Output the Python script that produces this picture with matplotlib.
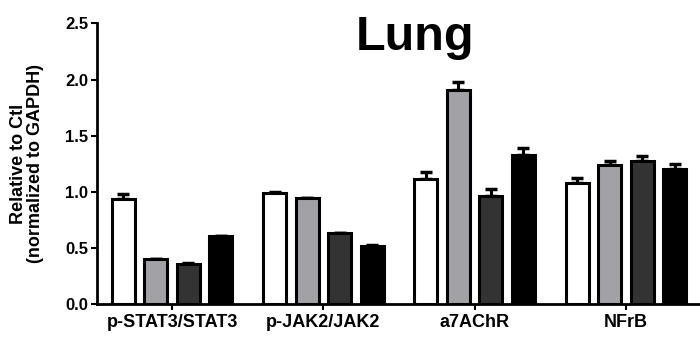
import numpy as np
import matplotlib
matplotlib.use("Agg")
import matplotlib.pyplot as plt

plt.rcParams['font.family'] = ['Liberation Sans', 'DejaVu Sans']
plt.rcParams['font.weight'] = 'bold'

# Data
categories = ["p-STAT3/STAT3", "p-JAK2/JAK2", "a7AChR", "NFrB"]
ctl = [0.935, 0.985, 1.11, 1.075]
grp2 = [0.40, 0.945, 1.91, 1.235]
grp3 = [0.355, 0.63, 0.96, 1.275]
grp4 = [0.61, 0.515, 1.325, 1.20]
ctl_err = [0.045, 0.015, 0.065, 0.045]
grp2_err = [0.0, 0.0, 0.065, 0.04]
grp3_err = [0.012, 0.0, 0.065, 0.045]
grp4_err = [0.0, 0.01, 0.065, 0.045]

series = [ctl, grp2, grp3, grp4]
errors = [ctl_err, grp2_err, grp3_err, grp4_err]
colors = ["white", "#a2a2a6", "#333333", "black"]

fig = plt.figure(figsize=(7, 3.38), dpi=100)
ax = fig.add_axes([0.138, 0.1006, 0.862, 0.830])

x = np.arange(len(categories))
width = 0.152
pitch = 0.215
offsets = (np.arange(4) - 1.5) * pitch

for vals, errs, col, off in zip(series, errors, colors, offsets):
    ax.bar(x + off, vals, width, color=col, edgecolor="black", linewidth=2.2, zorder=2)
    ax.errorbar(x + off, vals, yerr=[np.zeros(len(vals)), errs], fmt="none",
                ecolor="black", elinewidth=2.2, capsize=4, capthick=2.5, zorder=1)

ax.set_xlim(-0.5, 3.49)
ax.set_ylim(0, 2.5)
ax.set_yticks([0, 0.5, 1.0, 1.5, 2.0, 2.5])
ax.set_yticklabels(["0.0", "0.5", "1.0", "1.5", "2.0", "2.5"], fontsize=12, fontweight="bold")
ax.set_xticks(x)
ax.set_xticklabels(categories, fontsize=13, fontweight="bold")
ax.tick_params(axis="both", width=1.5, length=4, direction="out")
ax.tick_params(axis="x", pad=3)
ax.tick_params(axis="y", pad=2)

for s in ["top", "right"]:
    ax.spines[s].set_visible(False)
for s in ["left", "bottom"]:
    ax.spines[s].set_linewidth(2)

ax.set_ylabel("Relative to Ctl\n(normalized to GAPDH)", fontsize=13, fontweight="bold",
              linespacing=1.0)
ax.yaxis.set_label_coords(-0.088, 0.5)

fig.text(0.593, 0.852, "Lung", fontsize=35, fontweight="bold", ha="center", va="baseline")

fig.savefig("out.png", dpi=100)
